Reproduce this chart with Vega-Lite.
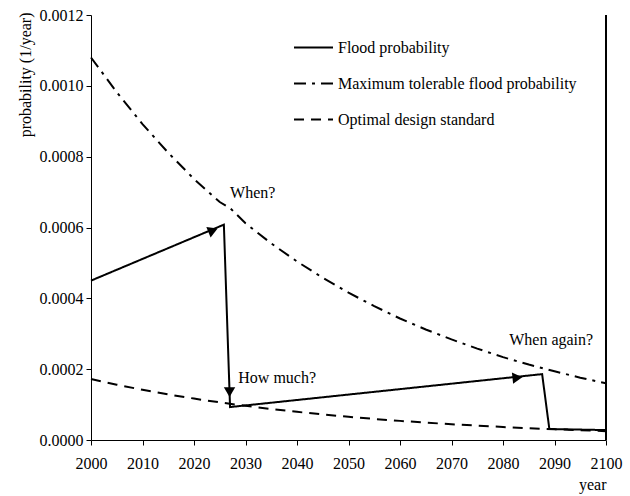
{
  "$schema": "https://vega.github.io/schema/vega-lite/v6.json",
  "width": 515,
  "height": 425,
  "autosize": {"type": "none"},
  "padding": {"left": 91, "top": 15, "right": 24, "bottom": 56},
  "background": "white",
  "config": {
    "view": {"stroke": null},
    "font": "Liberation Serif",
    "axis": {
      "domainColor": "#000000",
      "domainWidth": 1,
      "tickColor": "#000000",
      "tickSize": 5,
      "labelColor": "#000000",
      "labelFont": "Liberation Serif",
      "labelFontSize": 16,
      "titleFont": "Liberation Serif",
      "titleFontSize": 16,
      "titleFontWeight": "normal",
      "titleColor": "#000000",
      "grid": false
    }
  },
  "datasets": {
    "lines": [
      {"year": 2000, "value": 0.000450, "series": "Flood probability"},
      {"year": 2025.8, "value": 0.000608, "series": "Flood probability"},
      {"year": 2027, "value": 0.000093, "series": "Flood probability"},
      {"year": 2087.6, "value": 0.000186, "series": "Flood probability"},
      {"year": 2089, "value": 0.000031, "series": "Flood probability"},
      {"year": 2100, "value": 0.000028, "series": "Flood probability"},
      {"year": 2000, "value": 0.001080, "series": "Maximum tolerable flood probability"},
      {"year": 2005, "value": 0.000982, "series": "Maximum tolerable flood probability"},
      {"year": 2010, "value": 0.000892, "series": "Maximum tolerable flood probability"},
      {"year": 2015, "value": 0.000811, "series": "Maximum tolerable flood probability"},
      {"year": 2020, "value": 0.000737, "series": "Maximum tolerable flood probability"},
      {"year": 2025, "value": 0.000672, "series": "Maximum tolerable flood probability"},
      {"year": 2027, "value": 0.000655, "series": "Maximum tolerable flood probability"},
      {"year": 2030, "value": 0.000612, "series": "Maximum tolerable flood probability"},
      {"year": 2035, "value": 0.000555, "series": "Maximum tolerable flood probability"},
      {"year": 2040, "value": 0.000504, "series": "Maximum tolerable flood probability"},
      {"year": 2045, "value": 0.000458, "series": "Maximum tolerable flood probability"},
      {"year": 2050, "value": 0.000416, "series": "Maximum tolerable flood probability"},
      {"year": 2055, "value": 0.000378, "series": "Maximum tolerable flood probability"},
      {"year": 2060, "value": 0.000343, "series": "Maximum tolerable flood probability"},
      {"year": 2065, "value": 0.000312, "series": "Maximum tolerable flood probability"},
      {"year": 2070, "value": 0.000284, "series": "Maximum tolerable flood probability"},
      {"year": 2075, "value": 0.000258, "series": "Maximum tolerable flood probability"},
      {"year": 2080, "value": 0.000234, "series": "Maximum tolerable flood probability"},
      {"year": 2085, "value": 0.000213, "series": "Maximum tolerable flood probability"},
      {"year": 2090, "value": 0.000194, "series": "Maximum tolerable flood probability"},
      {"year": 2095, "value": 0.000176, "series": "Maximum tolerable flood probability"},
      {"year": 2100, "value": 0.000160, "series": "Maximum tolerable flood probability"},
      {"year": 2000, "value": 0.0001720, "series": "Optimal design standard"},
      {"year": 2005, "value": 0.0001562, "series": "Optimal design standard"},
      {"year": 2010, "value": 0.0001418, "series": "Optimal design standard"},
      {"year": 2015, "value": 0.0001288, "series": "Optimal design standard"},
      {"year": 2020, "value": 0.0001169, "series": "Optimal design standard"},
      {"year": 2025, "value": 0.0001062, "series": "Optimal design standard"},
      {"year": 2030, "value": 0.0000964, "series": "Optimal design standard"},
      {"year": 2035, "value": 0.0000875, "series": "Optimal design standard"},
      {"year": 2040, "value": 0.0000795, "series": "Optimal design standard"},
      {"year": 2045, "value": 0.0000722, "series": "Optimal design standard"},
      {"year": 2050, "value": 0.0000655, "series": "Optimal design standard"},
      {"year": 2055, "value": 0.0000595, "series": "Optimal design standard"},
      {"year": 2060, "value": 0.0000540, "series": "Optimal design standard"},
      {"year": 2065, "value": 0.0000491, "series": "Optimal design standard"},
      {"year": 2070, "value": 0.0000445, "series": "Optimal design standard"},
      {"year": 2075, "value": 0.0000405, "series": "Optimal design standard"},
      {"year": 2080, "value": 0.0000367, "series": "Optimal design standard"},
      {"year": 2085, "value": 0.0000333, "series": "Optimal design standard"},
      {"year": 2090, "value": 0.0000303, "series": "Optimal design standard"},
      {"year": 2095, "value": 0.0000275, "series": "Optimal design standard"},
      {"year": 2100, "value": 0.0000250, "series": "Optimal design standard"}
    ],
    "arrows": [
      {"arrow": "up", "year": 2023.7, "value": 0.000592},
      {"arrow": "down", "year": 2026.9, "value": 0.000135},
      {"arrow": "right", "year": 2082.8, "value": 0.000176}
    ],
    "notes": [
      {"year": 2027.0, "value": 0.000697, "label": "When?"},
      {"year": 2028.6, "value": 0.000176, "label": "How much?"},
      {"year": 2081.2, "value": 0.000282, "label": "When again?"}
    ]
  },
  "layer": [
    {
      "data": {"name": "lines"},
      "mark": {"type": "line", "strokeWidth": 2, "color": "#000000"},
      "encoding": {
        "x": {
          "field": "year",
          "type": "quantitative",
          "scale": {"domain": [2000, 2100], "nice": false, "zero": false},
          "axis": {
            "values": [2000, 2010, 2020, 2030, 2040, 2050, 2060, 2070, 2080, 2090, 2100],
            "format": "d",
            "title": "year",
            "titleAnchor": "end",
            "titlePadding": 5,
            "labelPadding": 10,
            "labelFlush": false,
            "labelOverlap": false
          }
        },
        "y": {
          "field": "value",
          "type": "quantitative",
          "scale": {"domain": [0, 0.0012], "nice": false},
          "axis": {
            "values": [0, 0.0002, 0.0004, 0.0006, 0.0008, 0.001, 0.0012],
            "format": ".4f",
            "title": "probability (1/year)",
            "titleX": -66,
            "titleY": -3,
            "titleAlign": "right",
            "titleAngle": -90,
            "titleBaseline": "middle",
            "labelPadding": 3,
            "labelFlush": false,
            "labelOverlap": false
          }
        },
        "strokeDash": {
          "field": "series",
          "type": "nominal",
          "scale": {
            "domain": ["Flood probability", "Maximum tolerable flood probability", "Optimal design standard"],
            "range": [[1, 0], [12, 6, 3, 6], [10, 7]]
          },
          "legend": {
            "orient": "none",
            "legendX": 202,
            "legendY": 12,
            "title": null,
            "symbolType": "stroke",
            "symbolSize": 1521,
            "symbolStrokeWidth": 2,
            "symbolStrokeColor": "#000000",
            "labelFont": "Liberation Serif",
            "labelFontSize": 16,
            "labelColor": "#000000",
            "labelOffset": 4,
            "labelLimit": 0,
            "rowPadding": 7
          }
        }
      }
    },
    {
      "data": {"name": "lines"},
      "mark": {"type": "rule", "color": "#000000", "strokeWidth": 1},
      "encoding": {"x": {"datum": 2100}}
    },
    {
      "data": {"name": "arrows"},
      "transform": [{"filter": "datum.arrow === 'up'"}],
      "mark": {"type": "point", "shape": "triangle-right", "angle": -22, "filled": true, "color": "#000000", "opacity": 1, "size": 130},
      "encoding": {
        "x": {"field": "year", "type": "quantitative"},
        "y": {"field": "value", "type": "quantitative"}
      }
    },
    {
      "data": {"name": "arrows"},
      "transform": [{"filter": "datum.arrow === 'down'"}],
      "mark": {"type": "point", "shape": "triangle-down", "filled": true, "color": "#000000", "opacity": 1, "size": 130},
      "encoding": {
        "x": {"field": "year", "type": "quantitative"},
        "y": {"field": "value", "type": "quantitative"}
      }
    },
    {
      "data": {"name": "arrows"},
      "transform": [{"filter": "datum.arrow === 'right'"}],
      "mark": {"type": "point", "shape": "triangle-right", "angle": -6, "filled": true, "color": "#000000", "opacity": 1, "size": 130},
      "encoding": {
        "x": {"field": "year", "type": "quantitative"},
        "y": {"field": "value", "type": "quantitative"}
      }
    },
    {
      "data": {"name": "notes"},
      "mark": {"type": "text", "align": "left", "baseline": "middle", "font": "Liberation Serif", "fontSize": 16, "color": "#000000"},
      "encoding": {
        "x": {"field": "year", "type": "quantitative"},
        "y": {"field": "value", "type": "quantitative"},
        "text": {"field": "label"}
      }
    }
  ]
}
